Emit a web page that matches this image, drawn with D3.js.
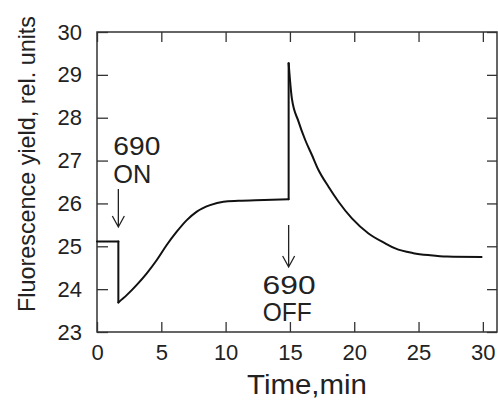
<!DOCTYPE html>
<html>
<head>
<meta charset="utf-8">
<script src="https://cdn.jsdelivr.net/npm/d3@7"></script>
<style>
  html, body { margin: 0; padding: 0; background: #fff; }
  svg { display: block; }
  text { font-family: "Liberation Sans", Arial, sans-serif; fill: #222; }
</style>
</head>
<body>
<svg id="chart" width="498" height="401"></svg>
<script>
// ---- data ----
const time  = [0, 1.66, 1.66, 2.31, 3.09, 3.87, 4.65, 5.42, 6.2, 6.98, 7.76, 8.79, 9.83, 11.0, 13.0, 14.9,
               14.9, 15.15, 15.67, 16.19, 16.71, 17.22, 18.0, 18.78, 19.82, 21.11, 22.41, 23.19, 24.6, 25.9, 27.2, 29.9];
const fluor = [25.11, 25.11, 23.69, 23.86, 24.10, 24.37, 24.68, 25.03, 25.34, 25.61, 25.81, 25.96, 26.04, 26.06, 26.08, 26.10,
               29.27, 28.45, 27.91, 27.48, 27.13, 26.78, 26.39, 26.04, 25.65, 25.30, 25.07, 24.95, 24.84, 24.79, 24.76, 24.75];
const xTicks = [0, 5, 10, 15, 20, 25, 30];
const yTicks = [23, 24, 25, 26, 27, 28, 29, 30];
const events = [
  { t: 1.66, lines: ["690", "ON"] },
  { t: 14.9, lines: ["690", "OFF"] }
];
const xTitle = "Time,min";
const yTitle = "Fluorescence yield, rel. units";

// ---- layout ----
const svg = d3.select("#chart");
const L = 97, R = 497, T = 32, B = 332;
const x = d3.scaleLinear().domain([0, 31.1]).range([L, R]);
const y = d3.scaleLinear().domain([23, 30]).range([B, T]);
const ink = "#222";

// frame
svg.append("rect").attr("x", L).attr("y", T).attr("width", R - L).attr("height", B - T)
  .attr("fill", "none").attr("stroke", "#333").attr("stroke-width", 1.5);

function styleAxis(g) {
  g.select(".domain").remove();
  g.selectAll(".tick line").attr("stroke", "#333").attr("stroke-width", 1.3);
  g.selectAll(".tick text").style("font-size", "22px").attr("fill", ink);
}

svg.append("g").attr("transform", `translate(0,${B})`)
  .call(d3.axisBottom(x).tickValues(xTicks).tickSize(-10).tickPadding(12).tickFormat(d3.format("d")))
  .call(styleAxis);
svg.append("g").attr("transform", `translate(0,${T})`)
  .call(d3.axisTop(x).tickValues(xTicks).tickSize(-10).tickFormat(""))
  .call(styleAxis);
svg.append("g").attr("transform", `translate(${L},0)`)
  .call(d3.axisLeft(y).tickValues(yTicks).tickSize(-11).tickPadding(15).tickFormat(d3.format("d")))
  .call(styleAxis);
svg.append("g").attr("transform", `translate(${R},0)`)
  .call(d3.axisRight(y).tickValues(yTicks).tickSize(-10).tickFormat(""))
  .call(styleAxis);

// ---- curve: split into smooth segments at vertical jumps ----
const pts = time.map((t, i) => [t, fluor[i]]);
const segments = [];
let cur = [pts[0]];
for (let i = 1; i < pts.length; i++) {
  if (pts[i][0] === pts[i - 1][0]) {
    segments.push({ pts: cur, smooth: true });
    segments.push({ pts: [pts[i - 1], pts[i]], smooth: false });
    cur = [pts[i]];
  } else {
    cur.push(pts[i]);
  }
}
segments.push({ pts: cur, smooth: true });

const lineSmooth = d3.line().x(d => x(d[0])).y(d => y(d[1])).curve(d3.curveMonotoneX);
const lineStraight = d3.line().x(d => x(d[0])).y(d => y(d[1]));
segments.forEach(s => {
  svg.append("path").attr("d", (s.smooth ? lineSmooth : lineStraight)(s.pts))
    .attr("fill", "none").attr("stroke", "#111").attr("stroke-width", 2)
    .attr("stroke-linejoin", "round").attr("stroke-linecap", "round");
});

// ---- annotations ----
const on = events[0], off = events[1];
function arrow(xp, y0, y1) {
  svg.append("path").attr("d", `M${xp},${y0}V${y1}M${xp - 6},${y1 - 11}L${xp},${y1}L${xp + 6},${y1 - 11}`)
    .attr("fill", "none").attr("stroke", ink).attr("stroke-width", 1.3);
}
const xon = x(on.t);
svg.append("text").attr("x", xon - 5).attr("y", 155).style("font-size", "25px")
  .attr("textLength", 47).attr("lengthAdjust", "spacingAndGlyphs").text(on.lines[0]);
svg.append("text").attr("x", xon - 5).attr("y", 183).style("font-size", "25px")
  .attr("textLength", 38).attr("lengthAdjust", "spacingAndGlyphs").text(on.lines[1]);
arrow(xon, 189, 227);

const xoff = x(off.t);
arrow(xoff, 225, 267);
svg.append("text").attr("x", xoff - 26).attr("y", 294).style("font-size", "25px")
  .attr("textLength", 53).attr("lengthAdjust", "spacingAndGlyphs").text(off.lines[0]);
svg.append("text").attr("x", xoff - 26).attr("y", 321).style("font-size", "25px")
  .attr("textLength", 49).attr("lengthAdjust", "spacingAndGlyphs").text(off.lines[1]);

// ---- axis titles ----
svg.append("text").attr("x", 307).attr("y", 394).attr("text-anchor", "middle")
  .style("font-size", "28px").attr("textLength", 120).attr("lengthAdjust", "spacingAndGlyphs").text(xTitle);
svg.append("text").attr("transform", "translate(35,164) rotate(-90)").attr("text-anchor", "middle")
  .style("font-size", "24px").attr("textLength", 296).attr("lengthAdjust", "spacingAndGlyphs").text(yTitle);
</script>
</body>
</html>
